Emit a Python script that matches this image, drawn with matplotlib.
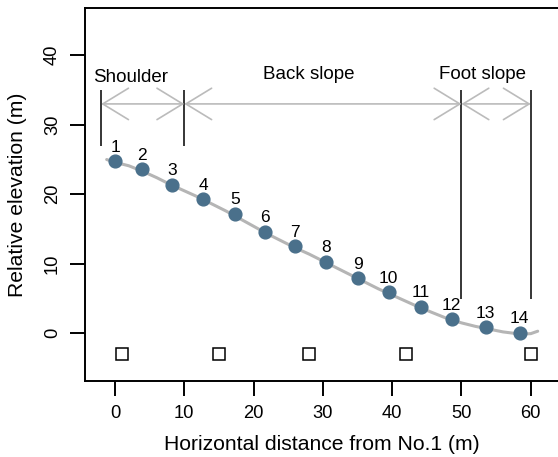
import matplotlib
matplotlib.use('Agg')
import matplotlib.pyplot as plt

# survey points along the slope
pt_x = [0, 3.85, 8.27, 12.7, 17.3, 21.6, 26.0, 30.5, 35.0, 39.5, 44.1, 48.6, 53.5, 58.4]
pt_y = [24.8, 23.6, 21.4, 19.3, 17.2, 14.6, 12.5, 10.3, 7.9, 5.9, 3.8, 2.06, 0.86, 0.09]
pt_labels = [str(i) for i in range(1, 15)]

# smooth profile line
curve_x = [-1.2, 0, 2, 4, 6, 8, 10, 12, 14, 16, 18, 20, 22, 24, 26, 28, 30, 32, 34,
           36, 38, 40, 42, 44, 46, 48, 50, 52, 54, 56, 58, 59, 60, 61]
curve_y = [25.0, 24.6, 24.1, 23.3, 22.4, 21.4, 20.5, 19.6, 18.6, 17.6, 16.5, 15.4,
           14.3, 13.3, 12.3, 11.4, 10.4, 9.4, 8.4, 7.4, 6.4, 5.5, 4.6, 3.7, 2.9,
           2.1, 1.5, 1.0, 0.6, 0.2, -0.05, -0.1, -0.05, 0.3]

# sampling squares
sq_x = [1, 15, 28, 42, 60]
sq_y = [-3, -3, -3, -3, -3]

# slope position boundaries
bound_x = [-2, 10, 50, 60]
bound_bottom = [27, 27, 5, 5]
bound_top = 35
arrow_y = 33
seg_names = ['Shoulder', 'Back slope', 'Foot slope']
seg_text_x = [2.3, 27.9, 53.0]
seg_text_y = [36.2, 36.6, 36.6]

plt.rcParams['font.family'] = ['Liberation Sans', 'DejaVu Sans']

fig = plt.figure(figsize=(5.58, 4.57), dpi=100)
ax = fig.add_axes([85 / 558, 76.3 / 457, 1 - 85 / 558, (449 - 76.3) / 457])

ax.plot(curve_x, curve_y, color='#b5b5b5', lw=2.2, solid_capstyle='round', zorder=2)
ax.plot(pt_x, pt_y, 'o', color='#4A708B', ms=9.2, mec='#4A708B', zorder=3)
for x, y, s in zip(pt_x, pt_y, pt_labels):
    ax.annotate(s, (x, y), xytext=(0, 10), textcoords='offset points',
                ha='center', va='center', fontsize=12.5)

ax.plot(sq_x, sq_y, 's', ms=8.2, mfc='white', mec='black', mew=1.1, zorder=3)

ax.vlines(bound_x, bound_bottom, bound_top, color='black', lw=1.1)
for x0, x1 in zip(bound_x[:-1], bound_x[1:]):
    ax.annotate('', xy=(x1, arrow_y), xytext=(x0, arrow_y),
                arrowprops=dict(arrowstyle='<->,head_length=1.85,head_width=1.13',
                                color='#bbbbbb', lw=1.2, shrinkA=0, shrinkB=0,
                                mutation_scale=10))
for s, x, y in zip(seg_names, seg_text_x, seg_text_y):
    ax.text(x, y, s, ha='center', va='baseline', fontsize=13.5)

ax.set_xlim(-4.33, 63.93)
ax.set_ylim(-6.82, 46.8)
ax.set_xticks([0, 10, 20, 30, 40, 50, 60])
ax.set_yticks([0, 10, 20, 30, 40])
ax.tick_params(length=10.8, width=1.4, labelsize=13.2, pad=6.5)
ax.tick_params(axis='y', labelrotation=90)
for lab in ax.get_yticklabels():
    lab.set_va('center')
ax.spines['right'].set_visible(False)
for side in ['left', 'top', 'bottom']:
    ax.spines[side].set_linewidth(1.4)

ax.set_xlabel('Horizontal distance from No.1 (m)', fontsize=15.2, labelpad=9.5)
ax.set_ylabel('Relative elevation (m)', fontsize=15.2, labelpad=12)

fig.savefig('out.png', dpi=100)
